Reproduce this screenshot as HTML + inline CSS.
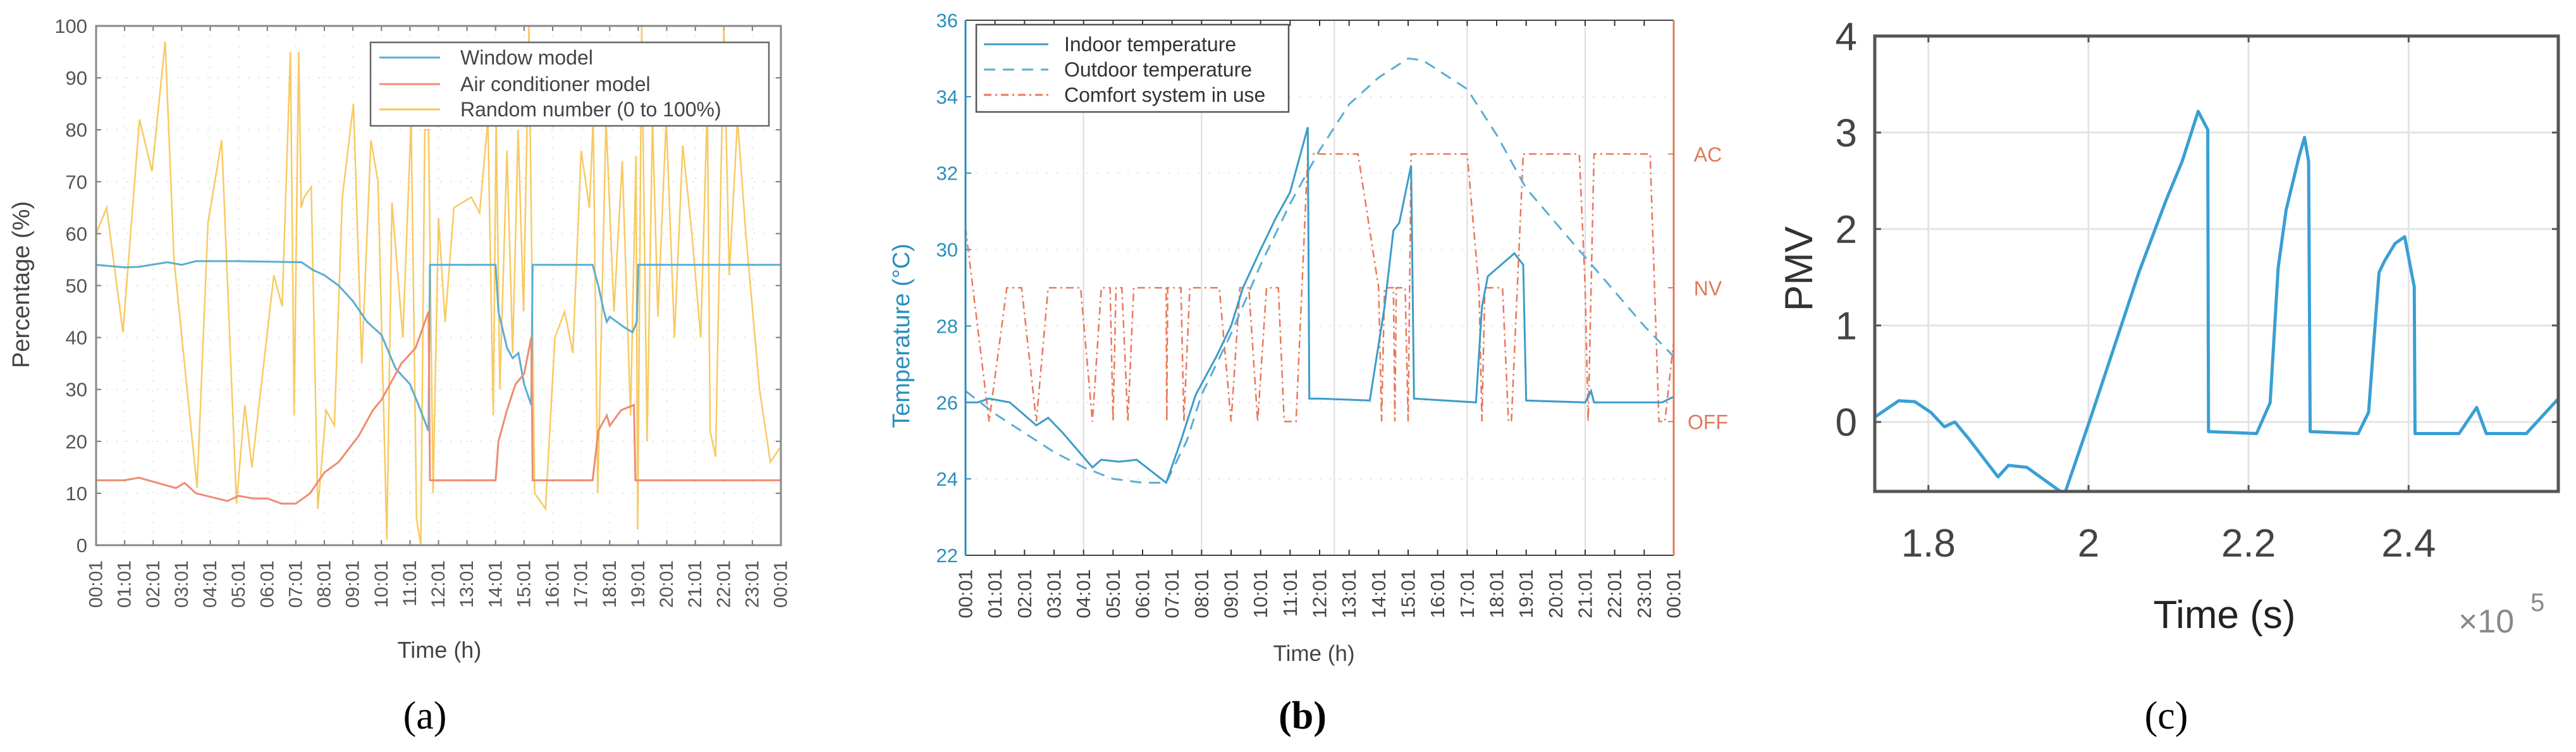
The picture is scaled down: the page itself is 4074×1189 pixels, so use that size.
<!DOCTYPE html>
<html><head><meta charset="utf-8"><style>
html,body{margin:0;padding:0;background:#fff;}
svg{display:block;font-family:"Liberation Sans",sans-serif;}
</style></head><body>
<svg id="fig" width="4074" height="1189" viewBox="0 0 4074 1189" xmlns="http://www.w3.org/2000/svg">
<defs>
<clipPath id="clipA"><rect x="152" y="41" width="1083" height="821"/></clipPath>
<clipPath id="clipB"><rect x="1527" y="32" width="1120" height="846"/></clipPath>
<clipPath id="clipC"><rect x="2965" y="57" width="1081" height="720"/></clipPath>
</defs>
<g id="gA"></g>
<g id="gB"></g>
<g id="gC"></g>
</svg>
<script>
// ---------- Panel (a) data ----------
const hourLabels = ["00:01","01:01","02:01","03:01","04:01","05:01","06:01","07:01","08:01","09:01","10:01","11:01","12:01","13:01","14:01","15:01","16:01","17:01","18:01","19:01","20:01","21:01","22:01","23:01","00:01"];
const aYTicks = [0,10,20,30,40,50,60,70,80,90,100];
const winT = [0,1,1.5,2.5,3,3.5,5,7.2,7.6,8,8.5,9,9.5,10,10.5,11,11.3,11.65,11.7,14,14.1,14.4,14.6,14.8,15.0,15.25,15.3,17.4,17.6,17.8,17.9,18.0,18.5,18.8,18.95,19.0,24];
const winV = [54,53.5,53.6,54.5,54,54.7,54.7,54.5,53,52,50,47,43,40.5,34,31,27,22,54,54,45,38,36,37,31,27,54,54,50,45,43,44,42,41,43,54,54];
const acT = [0,1,1.5,2.8,3.1,3.5,4.6,5,5.5,6,6.5,7,7.5,8,8.5,9.2,9.7,10,10.7,11.2,11.65,11.7,14,14.1,14.4,14.7,15,15.25,15.3,17.4,17.6,17.9,18,18.4,18.85,18.9,24];
const acV = [12.5,12.5,13,11,12,10,8.5,9.5,9,9,8,8,10,14,16,21,26,28,35,38,45,12.5,12.5,20,26,31,33,40,12.5,12.5,22,25,23,26,27,12.5,12.5];
const rndT = [0,.37,.94,1.52,1.96,2.42,2.73,3.54,3.92,4.4,4.92,5.21,5.46,6.23,6.52,6.81,6.94,7.1,7.19,7.29,7.54,7.77,8.06,8.35,8.63,9.02,9.31,9.63,9.88,10.19,10.37,10.75,11.04,11.23,11.38,11.52,11.65,11.81,12,12.23,12.54,13.15,13.44,13.73,13.92,14.02,14.15,14.4,14.6,14.79,14.98,15.17,15.37,15.75,16.08,16.42,16.71,17,17.29,17.42,17.58,17.87,18.15,18.44,18.73,18.92,18.98,19.12,19.31,19.5,19.69,19.98,20.27,20.56,20.88,21.19,21.42,21.52,21.71,22,22.19,22.48,22.77,23.25,23.63,24];
const rndV = [60,65,41,82,72,97,55,11,62,78,8,27,15,52,46,95,25,95,65,67,69,7,26,23,67,85,35,78,70,1,66,40,82,5,0,80,80,10,63,43,65,67,64,82,25,82,30,76,37,80,45,100,10,7,40,45,37,76,65,82,10,82,45,74,25,75,3,100,20,82,44,82,40,77,60,40,85,22,17,100,52,82,60,30,16,19];
// ---------- Panel (b) data ----------
const bYTicks = [22,24,26,28,30,32,34,36];
const bStateLabels = ["OFF","NV","AC"];
const bStateVals = [0,1,2];
const inT = [0,0.4,0.8,1.5,2.4,2.8,3.3,4.3,4.6,5.2,5.8,6.8,7.3,7.8,8.5,9.0,9.4,10.0,10.5,11.0,11.6,11.65,12,13.7,14.2,14.5,14.7,15.1,15.2,17.3,17.5,17.7,18.0,18.6,18.9,19.0,21.0,21.2,21.3,23.6,24];
const inV = [26.0,26.0,26.1,26.0,25.4,25.6,25.2,24.3,24.5,24.45,24.5,23.9,25.0,26.2,27.2,28.0,29.0,30.0,30.8,31.5,33.2,26.1,26.1,26.05,28.5,30.5,30.7,32.2,26.1,26.0,28.5,29.3,29.5,29.9,29.6,26.05,26.0,26.3,26.0,26.0,26.15];
const outT = [0,1,2,3,4,5,6,6.8,7.5,8,9,10,11,12,13,14,15,15.5,16,17,18,19,20,21,22,23,24];
const outV = [26.3,25.7,25.2,24.7,24.3,24.0,23.9,23.9,25.0,26.2,27.8,29.6,31.2,32.6,33.8,34.5,35.0,34.95,34.7,34.2,33.0,31.6,30.7,29.8,28.9,28.0,27.2];
const csT = [0,0.8,1.4,1.9,2.4,2.8,3.9,4.3,4.6,4.9,5.0,5.1,5.3,5.5,5.7,6.8,6.82,6.85,7.3,7.4,7.6,8.6,9.0,9.3,9.6,9.9,10.2,10.6,10.8,11.2,11.6,13.3,14.0,14.1,14.2,14.5,14.55,14.6,14.9,15.0,15.1,17.0,17.4,17.5,17.6,18.2,18.4,18.5,18.9,20.8,21.0,21.1,21.3,23.2,23.5,23.7,24];
const csV = [1.45,0,1,1,0,1,1,0,1,1,0,1,1,0,1,1,0,1,1,0,1,1,0,1,1,0,1,1,0,0,2,2,1,0,1,1,0,1,1,0,2,2,1,0,1,1,0,0,2,2,1,0,2,2,0,0,0.6];
// ---------- Panel (c) data ----------
const cXTicks = [1.8,2.0,2.2,2.4];
const cXTickLabels = ["1.8","2","2.2","2.4"];
const cYTicks = [0,1,2,3,4];
const pmvT = [1.733,1.763,1.783,1.803,1.82,1.833,1.85,1.887,1.9,1.923,1.97,2.003,2.037,2.063,2.097,2.117,2.137,2.149,2.15,2.21,2.227,2.237,2.247,2.263,2.27,2.275,2.277,2.337,2.35,2.363,2.37,2.383,2.395,2.407,2.408,2.463,2.485,2.497,2.547,2.588];
const pmvV = [0.05,0.22,0.21,0.1,-0.05,0,-0.17,-0.57,-0.45,-0.47,-0.75,0.05,0.9,1.55,2.3,2.7,3.22,3.03,-0.1,-0.12,0.2,1.6,2.2,2.75,2.95,2.7,-0.1,-0.12,0.1,1.55,1.67,1.85,1.92,1.4,-0.12,-0.12,0.15,-0.12,-0.12,0.25];

const NS = "http://www.w3.org/2000/svg";
function mk(parent, tag, attrs, text){
  const e = document.createElementNS(NS, tag);
  for (const k in attrs) e.setAttribute(k, attrs[k]);
  if (text !== undefined) e.textContent = text;
  parent.appendChild(e);
  return e;
}
function pathD(xs, ys, fx, fy){
  return xs.map((t,i)=>(i?"L":"M")+fx(t).toFixed(1)+" "+fy(ys[i]).toFixed(1)).join(" ");
}

// ================= Panel A =================
(function(){
  const g = document.getElementById("gA");
  const L=152,R=1235,T=41,B=862;
  const x = h => L + h/24*(R-L);
  const y = v => B - v/100*(B-T);
  aYTicks.forEach(v=>{
    const gl = mk(g,"line",{x1:L,x2:R,y1:y(v),y2:y(v),stroke:"#ddd","stroke-width":2,"stroke-dasharray":"2 14"});
    
    
    const t = mk(g,"text",{x:L-14,y:y(v)+11,"text-anchor":"end","font-size":31,fill:"#555"},String(v));
    
    
    mk(g,"line",{x1:L,x2:L+8,y1:y(v),y2:y(v),stroke:"#777","stroke-width":2});
    mk(g,"line",{x1:R,x2:R-8,y1:y(v),y2:y(v),stroke:"#777","stroke-width":2});
  });
  hourLabels.forEach((lab,i)=>{
    const xx = x(i);
    const gl = mk(g,"line",{x1:xx,x2:xx,y1:T,y2:B,stroke:"#e2e2e2","stroke-width":2,"stroke-dasharray":"2 14"});
    
    
    mk(g,"line",{x1:xx,x2:xx,y1:B,y2:B-8,stroke:"#777","stroke-width":2});
    mk(g,"line",{x1:xx,x2:xx,y1:T,y2:T+8,stroke:"#777","stroke-width":2});
    const t = mk(g,"text",{x:xx,y:886,"text-anchor":"end","dominant-baseline":"central","font-size":30,fill:"#555",transform:`rotate(-90 ${xx} 886)`},lab);
    
    
  });
  const cg = mk(g,"g",{"clip-path":"url(#clipA)"});
  const pr = mk(cg,"path",{d:pathD(rndT,rndV,x,y),fill:"none",stroke:"#f5b82e","stroke-opacity":0.75,"stroke-width":2.5});
  
  
  const pw = mk(cg,"path",{d:pathD(winT,winV,x,y),fill:"none",stroke:"#5aaed3","stroke-width":3});
  
  
  const pa = mk(cg,"path",{d:pathD(acT,acV,x,y),fill:"none",stroke:"#ee8c72","stroke-width":3});
  
  
  const fr = mk(g,"rect",{x:L,y:T,width:R-L,height:B-T,fill:"none",stroke:"#888","stroke-width":3});
  
  
  const yl = mk(g,"text",{x:46,y:450,"text-anchor":"middle","font-size":38,fill:"#444",transform:"rotate(-90 46 450)"},"Percentage (%)");
  
  
  const xl = mk(g,"text",{x:695,y:1040,"text-anchor":"middle","font-size":36,fill:"#444"},"Time (h)");
  
  
  const pl = mk(g,"text",{x:672,y:1152,"text-anchor":"middle","font-size":62,fill:"#000","font-family":"Liberation Serif, serif"},"(a)");
  
  
  const lg = mk(g,"g",{});
  
  
  mk(lg,"rect",{x:586,y:67,width:630,height:132,fill:"#fff",stroke:"#666","stroke-width":2.5});
  [["Window model","#5aaed3",91],["Air conditioner model","#ee8c72",133],["Random number (0 to 100%)","#f5c55a",173]].forEach(e=>{
    const le = mk(lg,"g",{});
    
    
    mk(le,"line",{x1:600,x2:696,y1:e[2],y2:e[2],stroke:e[1],"stroke-width":3});
    mk(le,"text",{x:728,y:e[2]+11,"font-size":32,fill:"#444"},e[0]);
  });
})();

// ================= Panel B =================
(function(){
  const g = document.getElementById("gB");
  const L=1527,R=2647,T=32,B=878;
  const x = h => L + h/24*(R-L);
  const y = v => B - (v-22)/14*(B-T);
  const ys = s => y(25.5 + s*3.5);
  [4,8,12.5,17,21].forEach(h=>{
    const gl = mk(g,"line",{x1:x(h),x2:x(h),y1:T,y2:B,stroke:"#ddd","stroke-width":2});
    
    
  });
  bYTicks.forEach(v=>{
    mk(g,"line",{x1:L,x2:R,y1:y(v),y2:y(v),stroke:"#ddd","stroke-width":2,"stroke-dasharray":"2 14"});
    mk(g,"line",{x1:L,x2:L+9,y1:y(v),y2:y(v),stroke:"#2a8fbd","stroke-width":2});
    const t = mk(g,"text",{x:L-12,y:y(v)+11,"text-anchor":"end","font-size":31,fill:"#2a8fbd"},String(v));
    
    
  });
  bStateVals.forEach((s,i)=>{
    mk(g,"line",{x1:R,x2:R-9,y1:ys(s),y2:ys(s),stroke:"#e07a5a","stroke-width":2});
    const t = mk(g,"text",{x:R+54,y:ys(s)+12,"text-anchor":"middle","font-size":32,fill:"#e07a5a"},bStateLabels[i]);
    
    
  });
  hourLabels.forEach((lab,i)=>{
    const xx = x(i);
    mk(g,"line",{x1:xx,x2:xx,y1:B,y2:B-9,stroke:"#333","stroke-width":2});
    mk(g,"line",{x1:xx,x2:xx,y1:T,y2:T+9,stroke:"#333","stroke-width":2});
    const t = mk(g,"text",{x:xx,y:900,"text-anchor":"end","dominant-baseline":"central","font-size":31,fill:"#444",transform:`rotate(-90 ${xx} 900)`},lab);
    
    
  });
  const cg = mk(g,"g",{"clip-path":"url(#clipB)"});
  const pc = mk(cg,"path",{d:pathD(csT,csV,x,ys),fill:"none",stroke:"#e8795a","stroke-width":2.5,"stroke-dasharray":"12 6 3 6"});
  
  
  const po = mk(cg,"path",{d:pathD(outT,outV,x,y),fill:"none",stroke:"#5aaed3","stroke-width":3,"stroke-dasharray":"18 12"});
  
  
  const pi = mk(cg,"path",{d:pathD(inT,inV,x,y),fill:"none",stroke:"#3c9cc9","stroke-width":3});
  
  
  mk(g,"line",{x1:L,x2:R,y1:T,y2:T,stroke:"#444","stroke-width":2});
  mk(g,"line",{x1:L,x2:R,y1:B,y2:B,stroke:"#444","stroke-width":2});
  const ya = mk(g,"line",{x1:L,x2:L,y1:T,y2:B,stroke:"#2a8fbd","stroke-width":3});
  
  
  const ra = mk(g,"line",{x1:R,x2:R,y1:T,y2:B,stroke:"#e07a5a","stroke-width":3});
  
  
  const yl = mk(g,"text",{x:1438,y:531,"text-anchor":"middle","font-size":38,fill:"#2a8fbd",transform:"rotate(-90 1438 531)"},"Temperature (°C)");
  
  
  const xl = mk(g,"text",{x:2078,y:1045,"text-anchor":"middle","font-size":35,fill:"#444"},"Time (h)");
  
  
  const pl = mk(g,"text",{x:2060,y:1152,"text-anchor":"middle","font-size":62,"font-weight":"bold",fill:"#000","font-family":"Liberation Serif, serif"},"(b)");
  
  
  const lg = mk(g,"g",{});
  
  
  mk(lg,"rect",{x:1544,y:39,width:494,height:138,fill:"#fff",stroke:"#555","stroke-width":2.5});
  [["Indoor temperature","#3c9cc9",70,""],["Outdoor temperature","#5aaed3",110,"18 12"],["Comfort system in use","#e8795a",150,"12 6 3 6"]].forEach(e=>{
    const le = mk(lg,"g",{});
    
    
    mk(le,"line",{x1:1556,x2:1658,y1:e[2],y2:e[2],stroke:e[1],"stroke-width":3,"stroke-dasharray":e[3]||"none"});
    mk(le,"text",{x:1683,y:e[2]+11,"font-size":32,fill:"#333"},e[0]);
  });
})();

// ================= Panel C =================
(function(){
  const g = document.getElementById("gC");
  const L=2965,R=4046,T=57,B=777;
  const x0=1.733,x1=2.587,y0=-0.72,y1=4;
  const x = t => L + (t-x0)/(x1-x0)*(R-L);
  const y = v => B - (v-y0)/(y1-y0)*(B-T);
  cXTicks.forEach((t,i)=>{
    const gl = mk(g,"line",{x1:x(t),x2:x(t),y1:T,y2:B,stroke:"#e4e4e4","stroke-width":3});
    
    
    mk(g,"line",{x1:x(t),x2:x(t),y1:B,y2:B-10,stroke:"#555","stroke-width":3});
    mk(g,"line",{x1:x(t),x2:x(t),y1:T,y2:T+10,stroke:"#555","stroke-width":3});
    const tl = mk(g,"text",{x:x(t),y:880,"text-anchor":"middle","font-size":62,fill:"#444"},cXTickLabels[i]);
    
    
  });
  cYTicks.forEach(v=>{
    const gl = mk(g,"line",{x1:L,x2:R,y1:y(v),y2:y(v),stroke:"#e4e4e4","stroke-width":3});
    
    
    mk(g,"line",{x1:L,x2:L+10,y1:y(v),y2:y(v),stroke:"#555","stroke-width":3});
    mk(g,"line",{x1:R,x2:R-10,y1:y(v),y2:y(v),stroke:"#555","stroke-width":3});
    const tl = mk(g,"text",{x:L-28,y:y(v)+22,"text-anchor":"end","font-size":62,fill:"#444"},String(v));
    
    
  });
  const cg = mk(g,"g",{"clip-path":"url(#clipC)"});
  const pp = mk(cg,"path",{d:pathD(pmvT,pmvV,x,y),fill:"none",stroke:"#3a9fd4","stroke-width":5,"stroke-linejoin":"round"});
  
  
  const fr = mk(g,"rect",{x:L,y:T,width:R-L,height:B-T,fill:"none",stroke:"#555","stroke-width":5});
  
  
  const yl = mk(g,"text",{x:2866,y:425,"text-anchor":"middle","font-size":62,fill:"#333",transform:"rotate(-90 2866 425)"},"PMV");
  
  
  const xl = mk(g,"text",{x:3518,y:993,"text-anchor":"middle","font-size":62,fill:"#222"},"Time (s)");
  
  
  const ex = mk(g,"text",{x:3888,y:1000,"font-size":52,fill:"#888"},"×10");
  
  
  mk(g,"text",{x:4002,y:966,"font-size":40,fill:"#888"},"5");
  const pl = mk(g,"text",{x:3426,y:1152,"text-anchor":"middle","font-size":62,fill:"#000","font-family":"Liberation Serif, serif"},"(c)");
  
  
})();
</script>
</body></html>
